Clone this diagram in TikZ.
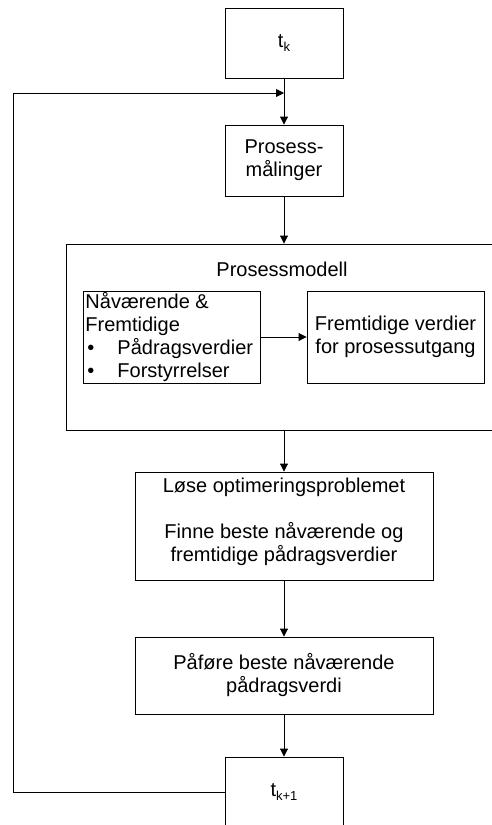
\documentclass[tikz,border=0pt]{standalone}
\usepackage{fontspec}
\setmainfont{Liberation Sans}
\usetikzlibrary{arrows.meta,calc}
\begin{document}
\begin{tikzpicture}[x=1pt,y=-1pt,
  line width=0.9pt,
  box/.style={draw=black,line width=0.9pt,inner sep=0pt,align=center,font=\fontsize{20}{23}\selectfont},
  txt/.style={inner sep=0pt,font=\fontsize{20}{23}\selectfont},
  arr/.style={-{Triangle[length=8pt,width=8pt]}}]
\useasboundingbox (0,0) rectangle (492,825);
\clip (0,0) rectangle (492,825);
\fill[white] (0,0) rectangle (492,825);
\newcommand{\sub}[1]{\raisebox{-0.35ex}{\fontsize{13}{13}\selectfont #1}}
\node[box,minimum width=118pt,minimum height=70pt] (tk) at (284,43) {t\sub{k}};
\node[box,minimum width=118pt,minimum height=71pt] (pm) at (284,160.5) {Prosess-\\målinger};
\node[box,minimum width=432pt,minimum height=186pt] (model) at (282,337) {};
\node[txt] (mlabel) at (282,269) {Prosessmodell};
\node[box,minimum width=177pt,minimum height=92pt] (inl) at (171.5,337) {};
\node[txt,anchor=west,align=left] (inltext) at (85,337) {Nåværende \&\\Fremtidige\\\makebox[32pt][l]{\hspace{2pt}•}Pådragsverdier\\\makebox[32pt][l]{\hspace{2pt}•}Forstyrrelser};
\node[box,minimum width=177pt,minimum height=92pt] (inr) at (395.5,337) {Fremtidige verdier\\for prosessutgang};
\node[box,minimum width=298pt,minimum height=108pt] (lose) at (284,526) {};
\node[txt,align=center] (losetext) at (284,522) {Løse optimeringsproblemet\\[23pt]Finne beste nåværende og\\fremtidige pådragsverdier};
\node[box,minimum width=298pt,minimum height=77pt] (pafore) at (284,675.5) {Påføre beste nåværende\\pådragsverdi};
\node[box,minimum width=118pt,minimum height=70pt] (tk1) at (284,792) {t\sub{k+1}};
\coordinate (c1) at (13,792);
\coordinate (c2) at (13,93);
\coordinate (join) at (284,93);
\draw[arr] (tk) -- (pm);
\draw[arr] (pm.south) -- (pm.south |- model.north);
\draw[arr] (inl) -- (inr);
\draw[arr] (lose.north |- model.south) -- (lose.north);
\draw[arr] (lose) -- (pafore);
\draw[arr] (pafore) -- (tk1);
\draw[arr] (tk1.west) -- (c1) -- (c2) -- (join);
\end{tikzpicture}
\end{document}
